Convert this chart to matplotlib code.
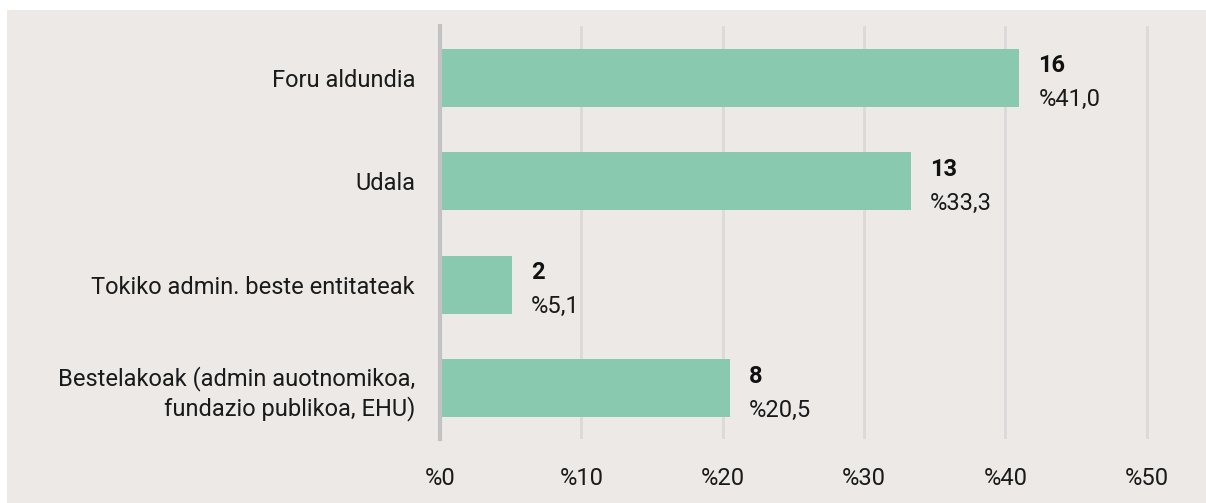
import numpy as np
import matplotlib as mpl
mpl.use('agg')
from matplotlib import pyplot as plt
from matplotlib.patches import Rectangle

categories = ['Foru aldundia', 'Udala', 'Tokiko admin. beste entitateak',
              'Bestelakoak (admin auotnomikoa,\nfundazio publikoa, EHU)']
counts = [16, 13, 2, 8]
percents = [41.0, 33.3, 5.1, 20.5]
xticks = [0, 10, 20, 30, 40, 50]

plt.rcParams['font.family'] = ['Roboto', 'DejaVu Sans']

bg = '#ECE9E6'
bar_color = '#88C9B0'
txt = '#1A1A1A'

fig = plt.figure(figsize=(12.06, 5.03), dpi=100, facecolor='white')
fig.patches.append(Rectangle((7 / 1206, 0), 1, 1 - 10 / 503, transform=fig.transFigure,
                             facecolor=bg, edgecolor='none', zorder=-10))

ax = fig.add_axes([440 / 1206, 1 - 439 / 503, 749 / 1206, 413 / 503])
ax.set_facecolor(bg)

y = np.arange(len(categories))
ax.barh(y, percents, height=0.56, color=bar_color, zorder=3)

for yi, c, p in zip(y, counts, percents):
    ax.annotate(str(c), (p, yi), xytext=(19, 12), textcoords='offset pixels',
                ha='left', va='center', fontsize=17, fontweight='bold', color='#111111')
    ax.annotate('%%%s' % ('%.1f' % p).replace('.', ','), (p, yi), xytext=(19, -22),
                textcoords='offset pixels', ha='left', va='center', fontsize=17,
                color=txt)

ax.set_xlim(0, 53)
ax.set_ylim(3.49, -0.5)
ax.set_yticks(y)
ax.set_yticklabels(categories, fontsize=17, color=txt, ha='right',
                   multialignment='right', linespacing=1.25)
ax.set_xticks(xticks)
ax.set_xticklabels(['%%%d' % t for t in xticks], fontsize=17, color=txt)
ax.tick_params(axis='both', length=0)
ax.tick_params(axis='x', pad=20)
ax.tick_params(axis='y', pad=18)

ax.grid(axis='x', color='#DCDAD8', linewidth=2, zorder=0)
for s in ['top', 'right', 'bottom']:
    ax.spines[s].set_visible(False)
ax.spines['left'].set_color('#C2C2C2')
ax.spines['left'].set_linewidth(3)
ax.spines['left'].set_zorder(4)

plt.savefig('out.png', dpi=100, facecolor='white')
